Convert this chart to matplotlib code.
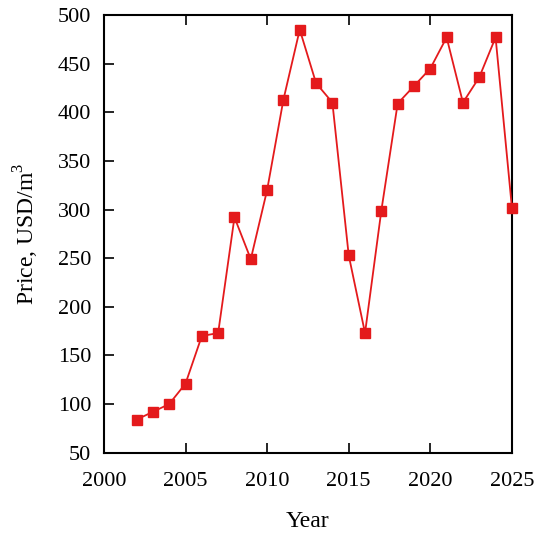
import matplotlib.pyplot as plt
import numpy as np

plt.rcParams['font.family'] = ['Liberation Serif', 'DejaVu Serif']
plt.rcParams['mathtext.fontset'] = 'custom'
plt.rcParams['mathtext.rm'] = 'Liberation Serif'

years = [2002, 2003, 2004, 2005, 2006, 2007, 2008, 2009, 2010, 2011, 2012, 2013,
         2014, 2015, 2016, 2017, 2018, 2019, 2020, 2021, 2022, 2023, 2024, 2025]
price = [84, 92, 100, 121, 170, 173, 292, 249, 320, 413, 485, 430,
         410, 253, 173, 299, 409, 427, 445, 477, 410, 436, 477, 302]

fig = plt.figure(figsize=(5.44, 5.37), dpi=100)
ax = fig.add_axes([0.191, 0.157, 0.75, 0.815])

ax.plot(years, price, color='#e41a1c', lw=1.3, marker='s', ms=7.2,
        clip_on=False, zorder=3)

ax.set_xlim(2000, 2025)
ax.set_ylim(50, 500)
ax.set_xticks(np.arange(2000, 2026, 5))
ax.set_yticks(np.arange(50, 501, 50))

ax.tick_params(direction='in', length=7, width=1.2, labelsize=16,
               top=True, right=False)
ax.tick_params(axis='x', pad=14)
ax.tick_params(axis='y', pad=9)
for s in ax.spines.values():
    s.set_linewidth(1.5)

ax.set_xlabel('Year', fontsize=17, labelpad=14)
ax.set_ylabel('Price, USD/m$^3$', fontsize=17, labelpad=12)

fig.savefig('out.png', dpi=100)
